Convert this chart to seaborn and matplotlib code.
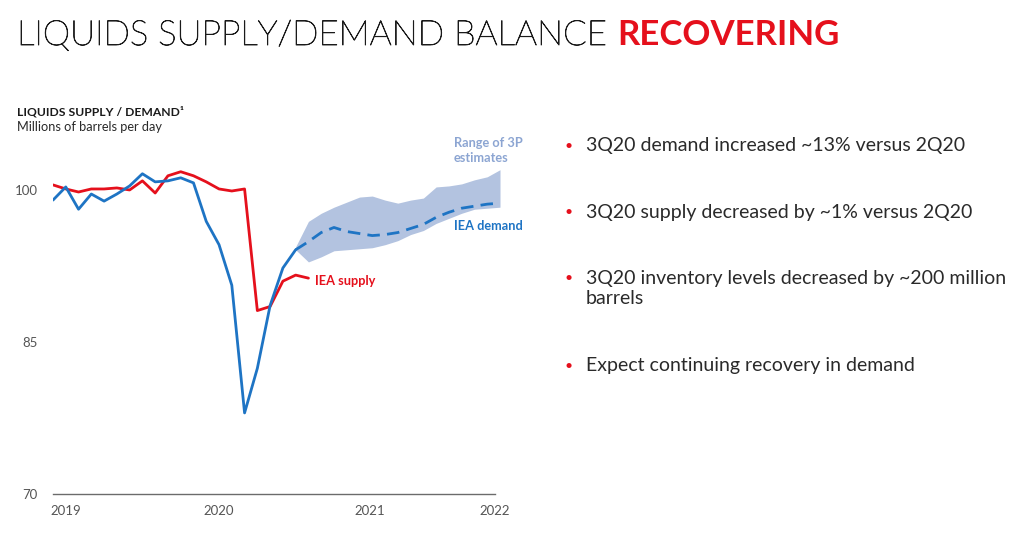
import numpy as np
import pandas as pd
import matplotlib
matplotlib.use("Agg")
import matplotlib.pyplot as plt
import matplotlib.patheffects as pe
import seaborn as sns

# ---------------- data ----------------
supply_months = list(range(0, 21))
supply_values = [100.5, 100.1, 99.8, 100.1, 100.1, 100.2, 100.0, 100.9, 99.7, 101.4,
                 101.8, 101.4, 100.8, 100.1, 99.9, 100.1, 88.1, 88.5, 91.0, 91.6, 91.3]

demand_months = list(range(0, 20))
demand_values = [99.0, 100.3, 98.1, 99.6, 98.9, 99.6, 100.4, 101.6, 100.8, 100.9,
                 101.2, 100.7, 96.9, 94.6, 90.6, 78.0, 82.4, 88.6, 92.3, 94.1]

forecast_months = list(range(19, 36))
forecast_values = [94.1, 94.9, 95.8, 96.3, 95.9, 95.7, 95.5, 95.6, 95.8, 96.2,
                   96.6, 97.3, 97.8, 98.2, 98.4, 98.6, 98.7]
band_upper = [94.4, 96.9, 97.7, 98.3, 98.8, 99.3, 99.4, 99.0, 98.7, 99.0,
              99.2, 100.3, 100.4, 100.6, 101.0, 101.3, 102.0]
band_lower = [94.1, 92.9, 93.4, 94.0, 94.1, 94.2, 94.3, 94.6, 95.0, 95.6,
              96.0, 96.7, 97.2, 97.7, 98.1, 98.2, 98.3]

year_labels = ["2019", "2020", "2021", "2022"]
y_ticks = [70, 85, 100]

title_main = "LIQUIDS SUPPLY/DEMAND BALANCE"
title_accent = "RECOVERING"
bullets = [
    "3Q20 demand increased ~13% versus 2Q20",
    "3Q20 supply decreased by ~1% versus 2Q20",
    "3Q20 inventory levels decreased by ~200 million\nbarrels",
    "Expect continuing recovery in demand",
]

# ---------------- style ----------------
RED = "#E5101C"
BLUE = "#1E74C4"
BAND = "#B3C3E0"
BAND_TXT = "#8CA5D2"
DARK = "#2a2a2a"
GREY = "#555555"

sns.set_style("white")
plt.rcParams["font.family"] = ["Lato", "DejaVu Sans"]

W, H = 1024, 541
fig = plt.figure(figsize=(W / 100, H / 100), dpi=100)

def px(x, y):
    return x / W, 1 - y / H

# axes: month 0 -> x=53, month 35 -> x=500 ; 70 -> y=494, 105 -> y=139.3
left, right = 53 / W, 500 / W
bottom, top = 1 - 494 / H, 1 - 139.3 / H
ax = fig.add_axes([left, bottom, right - left, top - bottom])

ax.fill_between(forecast_months, band_lower, band_upper, color=BAND, lw=0, zorder=1)

df_s = pd.DataFrame({"month": supply_months, "value": supply_values})
df_d = pd.DataFrame({"month": demand_months, "value": demand_values})
df_f = pd.DataFrame({"month": forecast_months, "value": forecast_values})

sns.lineplot(data=df_s, x="month", y="value", ax=ax, color=RED, lw=2.0, zorder=3)
sns.lineplot(data=df_d, x="month", y="value", ax=ax, color=BLUE, lw=2.0, zorder=4)
sns.lineplot(data=df_f, x="month", y="value", ax=ax, color=BLUE, lw=2.0, zorder=4,
             dashes=False, linestyle=(0, (4.5, 2.6)))

ax.set_xlim(0, 35)
ax.set_ylim(70, 105)
ax.set_xlabel("")
ax.set_ylabel("")
for s in ["top", "right", "left"]:
    ax.spines[s].set_visible(False)
ax.spines["bottom"].set_color("#6b6b6b")
ax.spines["bottom"].set_linewidth(1.0)
ax.spines["bottom"].set_bounds(0, 34.6)

ax.set_xticks([1.0, 13.0, 24.8, 34.6])
ax.set_xticklabels(year_labels)
ax.set_yticks(y_ticks)
ax.set_yticklabels([str(v) for v in y_ticks])
ax.tick_params(axis="both", length=0, labelsize=9.5, labelcolor=GREY)
ax.tick_params(axis="x", pad=8)
ax.tick_params(axis="y", pad=11)
ax.grid(False)

# annotations in chart
ax.text(31.4, 103.9, "Range of 3P\nestimates", color=BAND_TXT, fontsize=9.2, fontweight="bold",
        ha="left", va="center", linespacing=1.35)
ax.text(31.4, 96.4, "IEA demand", color=BLUE, fontsize=9.2, fontweight="bold", ha="left", va="center")
ax.text(20.5, 91.0, "IEA supply", color=RED, fontsize=9.2, fontweight="bold", ha="left", va="center")

# chart headings
fig.text(*px(17, 112), "LIQUIDS SUPPLY / DEMAND\u00b9", fontsize=8.7, fontweight="bold",
         color="#1a1a1a", ha="left", va="center")
fig.text(*px(17, 127), "Millions of barrels per day", fontsize=9.2, color=DARK,
         ha="left", va="center")

# title
t1 = fig.text(*px(17, 35), title_main + " ", fontsize=25, fontweight="light",
              color="#1a1a1a", ha="left", va="center",
              path_effects=[pe.withStroke(linewidth=0.6, foreground="#1a1a1a")])
fig.canvas.draw()
bb = t1.get_window_extent(renderer=fig.canvas.get_renderer())
fig.text(bb.x1 / W, 1 - 35 / H, title_accent, fontsize=25, fontweight="bold",
         color=RED, ha="left", va="center")

# bullets
bullet_y = [146, 212, 288.5, 366]
for yb, txt in zip(bullet_y, bullets):
    n = txt.count("\n")
    first_line_y = yb - n * 10.5
    fig.text(*px(565, first_line_y), "\u2022", color=RED, fontsize=10, ha="left", va="center")
    fig.text(*px(586, yb), txt, color=DARK, fontsize=14, ha="left", va="center",
             linespacing=1.2)

fig.savefig("out.png", dpi=100)
